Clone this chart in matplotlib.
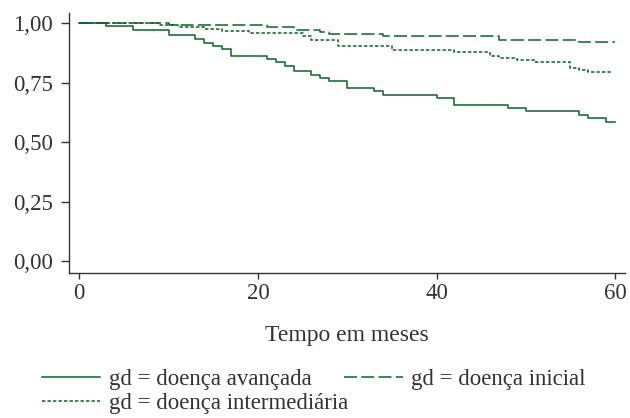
import numpy as np
import matplotlib
matplotlib.use("Agg")
import matplotlib.pyplot as plt

# Kaplan-Meier estimates by disease grade (times in months)
avancada_t = [0, 3, 6, 10, 13, 14, 15, 16, 17, 21, 22, 23, 24, 26, 27, 28, 30,
              33, 34, 40, 42, 48, 50, 56, 57, 59]
avancada_s = [1.000, 0.990, 0.972, 0.950, 0.933, 0.918, 0.906, 0.891, 0.864,
              0.851, 0.837, 0.822, 0.798, 0.783, 0.770, 0.756, 0.727, 0.716,
              0.700, 0.686, 0.657, 0.645, 0.632, 0.616, 0.603, 0.587]
avancada_fim = 60

inicial_t = [0, 10, 21, 24, 27, 28, 34, 47, 56]
inicial_s = [1.000, 0.994, 0.983, 0.972, 0.963, 0.956, 0.948, 0.930, 0.920]
inicial_fim = 60

intermediaria_t = [0, 9, 11, 14, 16, 19, 25, 26, 29, 35, 42, 46, 47, 49, 51,
                   55, 56, 57]
intermediaria_s = [1.000, 0.992, 0.986, 0.975, 0.968, 0.959, 0.947, 0.929,
                   0.906, 0.888, 0.878, 0.864, 0.854, 0.846, 0.837, 0.813,
                   0.804, 0.797]
intermediaria_fim = 59.6

x_ticks = [0, 20, 40, 60]
y_ticks = [0.0, 0.25, 0.5, 0.75, 1.0]
y_tick_labels = ["0,00", "0,25", "0,50", "0,75", "1,00"]

verde = "#0d622a"
cinza = "#333333"

plt.rcParams["font.family"] = ["Liberation Serif", "DejaVu Serif"]
plt.rcParams["font.size"] = 16.5
plt.rcParams["text.color"] = cinza


def curva(t, s, fim):
    # extend the last step to the end of follow-up
    t = np.append(t, fim)
    s = np.append(s, s[-1])
    return t, s


fig = plt.figure(figsize=(6.3, 4.18), dpi=100)
ax = fig.add_axes([0.110, 0.346, 0.882, 0.623])

t, s = curva(avancada_t, avancada_s, avancada_fim)
ax.step(t, s, where="post", color=verde, lw=1.1, ls="-",
        label="gd = doença avançada")
t, s = curva(intermediaria_t, intermediaria_s, intermediaria_fim)
ax.step(t, s, where="post", color=verde, lw=1.1, ls=(0, (2.2, 1.4)),
        label="gd = doença intermediária")
t, s = curva(inicial_t, inicial_s, inicial_fim)
ax.step(t, s, where="post", color=verde, lw=1.1, ls=(0, (8.5, 2.8)),
        label="gd = doença inicial")

ax.set_xlim(-1.12, 61.1)
ax.set_ylim(-0.05, 1.043)
ax.set_xticks(x_ticks)
ax.set_yticks(y_ticks)
ax.set_yticklabels(y_tick_labels)

for lado in ["top", "right"]:
    ax.spines[lado].set_visible(False)
for lado in ["left", "bottom"]:
    ax.spines[lado].set_color(cinza)
    ax.spines[lado].set_linewidth(1.0)

ax.tick_params(axis="y", length=6, width=1.0, color=cinza, pad=6,
               labelcolor=cinza)
ax.tick_params(axis="x", length=4.5, width=1.0, color=cinza, pad=2.5,
               labelcolor=cinza)

ax.set_xlabel("Tempo em meses", labelpad=15, color=cinza, fontsize=17)

# legend under the axes, third entry alone on the second row
fig.legend(loc="upper left", bbox_to_anchor=(0.0667, 0.118), ncol=2,
           frameon=False, borderpad=0, borderaxespad=0, fontsize=16.5,
           handlelength=2.55, handletextpad=0.37, labelspacing=0.15,
           columnspacing=-0.17)

fig.savefig("out.png", dpi=100)
